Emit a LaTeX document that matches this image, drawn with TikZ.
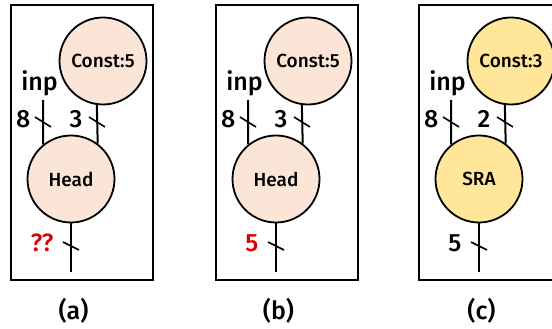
\documentclass[tikz,border=0pt]{standalone}
\usepackage{fontspec}
\setmainfont{Fira Sans}[UprightFont={* Medium}, BoldFont={* Bold}]
\usetikzlibrary{calc}
\definecolor{peach}{HTML}{FBE5D6}
\definecolor{gold}{HTML}{FFE699}
\definecolor{warn}{HTML}{D80000}
\begin{document}
\begin{tikzpicture}[x=1pt,y=1pt,
  frame/.style={draw=black, line width=2pt},
  op/.style={circle, draw=black, line width=1.8pt, minimum size=87pt, inner sep=0pt, font=\fontsize{19}{19}\selectfont},
  wire/.style={line width=2pt},
  tick/.style={line width=1.6pt},
  bitwidth/.style={anchor=east, inner sep=0pt, font=\fontsize{25}{25}\selectfont},
  portname/.style={inner sep=0pt, font=\fontsize{25}{25}\selectfont},
  caption/.style={inner sep=0pt, font=\fontsize{25}{25}\selectfont}]
\useasboundingbox (0,0) rectangle (552,329);
\clip (0,0) rectangle (552,329);

% one panel: #1 x offset, #2 fill, #3 constant, #4 operator, #5 shift width, #6 output label, #7 caption
\newcommand{\panel}[7]{%
  \begin{scope}[xshift=#1pt]
    \draw[frame] (11,49) rectangle (153,324);
    \node[op, fill=#2] (cst) at (103,268) {#3};
    \node[op, fill=#2] (opn) at (71,150) {#4};
    \coordinate (inp) at (43,229);
    \coordinate (out) at (71,57);
    \node[portname] (inpname) at (39.5,246) {inp};
    \draw[wire] (inp) -- (opn.129.5);
    \draw[wire] (cst.262) -- (opn.53);
    \draw[wire] (opn.south) -- (out);
    \coordinate (t1) at (43,207);
    \coordinate (t2) at (97,207);
    \coordinate (t3) at (71,83);
    \draw[tick] ($(t1)+(-8,5)$) -- ($(t1)+(8,-5)$);
    \draw[tick] ($(t2)+(-8,5)$) -- ($(t2)+(8,-5)$);
    \draw[tick] ($(t3)+(-8,4)$) -- ($(t3)+(8,-4)$);
    \node[bitwidth] (w1) at (30.5,210) {8};
    \node[bitwidth] (w2) at (82.5,210) {#5};
    \node[bitwidth] (w3) at (53.5,86) {#6};
    \node[caption] (cap) at (73.5,18) {#7};
  \end{scope}}

\panel{0}{peach}{Const:5}{Head}{3}{\textcolor{warn}{??}}{(a)}
\panel{205}{peach}{Const:5}{Head}{3}{\textcolor{warn}{5}}{(b)}
\panel{408}{gold}{Const:3}{SRA}{2}{5}{(c)}
\end{tikzpicture}
\end{document}
